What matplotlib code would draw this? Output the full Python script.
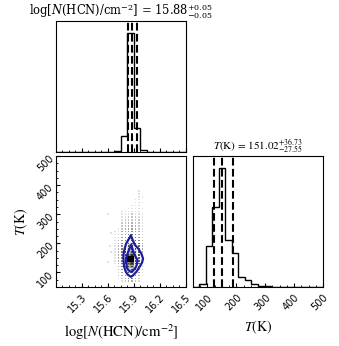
import matplotlib
matplotlib.use("Agg")
import matplotlib.pyplot as plt
import numpy as np
from matplotlib.colors import LinearSegmentedColormap
from matplotlib.ticker import AutoMinorLocator

plt.rcParams['mathtext.fontset'] = 'stix'
plt.rcParams['font.family'] = ['STIXGeneral', 'DejaVu Sans']

# marginal histograms (relative counts)
logN_counts = [0, 0, 0, 0, 0, 0, 0, 0, 0, 12, 135, 1000, 200, 15, 0, 0, 0, 0, 0, 0]
T_counts = [0, 23, 348, 669, 1000, 391, 286, 88, 59, 25, 11, 6, 2, 0, 0, 0, 0, 0, 0, 0]
logN_quant = [15.83, 15.88, 15.93]
T_quant = [123.47, 151.02, 187.75]

# sample grid of the 2D panel
logN_cols = [15.68, 15.72, 15.76, 15.80, 15.84, 15.88, 15.92, 15.96, 16.00]
T_rows = [380, 370, 360, 350, 340, 330, 320, 310, 300, 290, 280, 270, 260, 250, 240, 230,
          220, 210, 200, 190, 180, 170, 160, 150, 140, 130, 120, 110, 100, 90, 80, 70]
counts = np.array([
    [0, 0, 0, 0, 0, 0, 0, 1, 0],
    [0, 0, 0, 0, 0, 0, 0, 1, 0],
    [0, 0, 0, 0, 0, 0, 0, 1, 1],
    [0, 0, 0, 0, 0, 0, 1, 1, 0],
    [0, 0, 0, 0, 0, 0, 1, 1, 1],
    [0, 0, 0, 0, 0, 1, 1, 1, 0],
    [0, 0, 0, 0, 1, 1, 1, 1, 1],
    [0, 0, 1, 1, 1, 1, 1, 1, 0],
    [0, 0, 1, 1, 1, 2, 1, 1, 1],
    [0, 0, 1, 1, 2, 2, 2, 1, 1],
    [0, 0, 1, 2, 2, 2, 2, 2, 1],
    [0, 0, 2, 2, 3, 3, 2, 2, 1],
    [0, 0, 2, 2, 3, 3, 3, 2, 1],
    [0, 1, 2, 3, 4, 4, 3, 2, 1],
    [1, 1, 3, 3, 5, 5, 4, 3, 2],
    [1, 2, 3, 4, 6, 7, 5, 3, 2],
    [1, 2, 4, 5, 8, 9, 6, 4, 2],
    [1, 2, 4, 6, 10, 12, 8, 5, 3],
    [1, 3, 5, 7, 12, 15, 10, 6, 3],
    [1, 3, 5, 8, 15, 18, 12, 7, 3],
    [1, 3, 6, 9, 18, 22, 14, 8, 3],
    [1, 3, 6, 10, 22, 27, 16, 8, 3],
    [1, 3, 6, 11, 28, 33, 17, 8, 3],
    [1, 3, 6, 12, 40, 45, 18, 8, 3],
    [1, 3, 6, 12, 42, 46, 18, 8, 3],
    [1, 3, 6, 11, 30, 34, 16, 7, 2],
    [0, 3, 5, 10, 24, 27, 13, 6, 2],
    [0, 2, 4, 8, 18, 20, 10, 5, 2],
    [0, 2, 4, 6, 13, 14, 7, 4, 1],
    [0, 2, 3, 4, 9, 10, 5, 3, 1],
    [0, 1, 2, 3, 6, 6, 3, 2, 0],
    [0, 0, 1, 2, 3, 3, 2, 1, 0],
])
stray_logN = [15.60, 15.64, 15.62, 15.64, 15.60]
stray_T = [300, 235, 192, 170, 136]

# credible contours
outer_logN = [15.865, 15.91, 15.95, 15.985, 16.005, 15.995, 15.975, 15.93, 15.89, 15.865,
              15.83, 15.805, 15.785, 15.778, 15.785, 15.808, 15.835, 15.865]
outer_T = [226, 195, 182, 165, 148, 135, 124, 103, 90, 85, 92, 103, 122, 155, 172, 198, 212, 226]
inner_logN = [15.865, 15.89, 15.912, 15.94, 15.935, 15.92, 15.89, 15.865, 15.835, 15.82,
              15.81, 15.81, 15.83, 15.865]
inner_T = [194, 175, 158, 143, 128, 117, 106, 102, 108, 116, 135, 150, 168, 194]

logN_label = r'$\log[N(\mathrm{HCN})/\mathrm{cm}^{-2}]$'
T_label = r'$T(\mathrm{K})$'

fig = plt.figure(figsize=(3.39, 3.46), dpi=100)
ax1 = fig.add_axes([0.165, 0.5607, 0.3835, 0.3786])
ax2 = fig.add_axes([0.165, 0.1705, 0.3835, 0.3786])
ax3 = fig.add_axes([0.5693, 0.1705, 0.3835, 0.3786])

lo, hi = 15.0, 16.5
tlo, thi = 50, 500

# top: logN marginal
ax1.stairs(logN_counts, np.linspace(lo, hi, len(logN_counts) + 1), color='k', lw=1)
for q in logN_quant:
    ax1.axvline(q, color='k', ls='--', lw=1.5)
ax1.set_xlim(lo, hi)
ax1.set_ylim(0, 1.1 * max(logN_counts))
ax1.set_yticks([])
ax1.set_xticks([15.3, 15.6, 15.9, 16.2, 16.5])
ax1.set_xticklabels([])
ax1.set_title(logN_label + r' = $15.88^{+0.05}_{-0.05}$', fontsize=8.3, pad=4,
              family='DejaVu Serif', math_fontfamily='dejavuserif')

# right: T marginal
ax3.stairs(T_counts, np.linspace(tlo, thi, len(T_counts) + 1), color='k', lw=1)
for q in T_quant:
    ax3.axvline(q, color='k', ls='--', lw=1.5)
ax3.set_xlim(tlo, thi)
ax3.set_ylim(0, 1.1 * max(T_counts))
ax3.set_yticks([])
ax3.set_xticks([100, 200, 300, 400, 500])
ax3.set_title(T_label + r' = $151.02^{+36.73}_{-27.55}$', fontsize=8, pad=4)
ax3.set_xlabel(T_label, fontsize=10)
ax3.xaxis.set_label_coords(0.5, -0.245)

# 2D panel
X, Y = np.meshgrid(logN_cols, T_rows)
m = counts > 0
alpha = 1 - 0.88 ** counts[m]
cols = np.zeros((m.sum(), 4))
cols[:, 3] = alpha
ax2.scatter(X[m], Y[m], s=1.2, c=cols, marker='s', linewidths=0)
ax2.scatter(stray_logN, stray_T, s=1.2, color='k', alpha=0.12, marker='s', linewidths=0)

xe = np.append(np.array(logN_cols) - 0.02, logN_cols[-1] + 0.02)
ye = np.append(np.array(T_rows) + 5, T_rows[-1] - 5)
dens_cmap = LinearSegmentedColormap.from_list('dens', [(1, 1, 1, 0), (0, 0, 0, 1)])
ax2.pcolormesh(xe, ye, np.ma.masked_less(counts, 12), cmap=dens_cmap, vmin=6, vmax=40)

ax2.plot(outer_logN, outer_T, color='#1e1e9c', lw=1.6)
ax2.plot(inner_logN, inner_T, color='#1e1e9c', lw=1.6)

ax2.set_xlim(lo, hi)
ax2.set_ylim(tlo, thi)
ax2.set_xticks([15.3, 15.6, 15.9, 16.2, 16.5])
ax2.set_yticks([100, 200, 300, 400, 500])
ax2.set_xlabel(logN_label, fontsize=10.5)
ax2.set_ylabel(T_label, fontsize=10)
ax2.xaxis.set_label_coords(0.5, -0.27)
ax2.yaxis.set_label_coords(-0.2, 0.5)

for ax in (ax1, ax2, ax3):
    ax.xaxis.set_minor_locator(AutoMinorLocator(4))
    ax.tick_params(which='both', direction='in', labelsize=7, labelfontfamily='DejaVu Sans')
    ax.tick_params(which='major', length=3)
    ax.tick_params(which='minor', length=1.5)
    for lab in ax.get_xticklabels():
        lab.set_rotation(45)
        lab.set_ha('right')
        lab.set_rotation_mode('anchor')
ax2.yaxis.set_minor_locator(AutoMinorLocator(4))
for lab in ax2.get_yticklabels():
    lab.set_rotation(45)
    lab.set_ha('right')
    lab.set_rotation_mode('anchor')

fig.savefig('out.png', dpi=100)
